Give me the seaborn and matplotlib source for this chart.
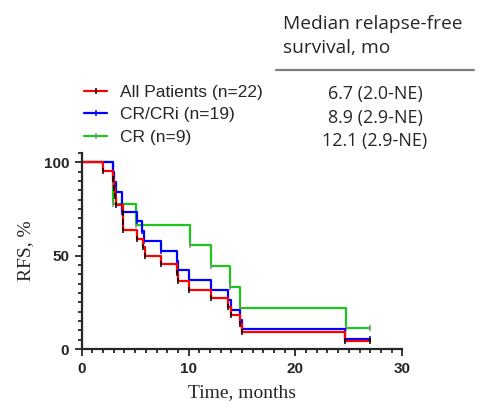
import matplotlib
matplotlib.use("Agg")
import matplotlib.pyplot as plt
import seaborn as sns
import pandas as pd
from matplotlib.lines import Line2D
from matplotlib.ticker import MultipleLocator

# relapse-free survival data (months, 1 = relapse/death, 0 = censored)
all_times = [2.0, 2.9, 3.0, 3.1, 3.2, 3.9, 3.9, 3.9, 5.2, 5.7, 5.9, 7.4, 8.9, 9.0,
             10.0, 12.1, 13.7, 14.0, 14.8, 15.0, 24.6, 27.0]
all_events = [1] * 21 + [0]
crcri_times = [2.9, 3.0, 3.2, 3.8, 3.8, 5.2, 5.6, 5.8, 7.4, 8.9, 9.0, 10.0, 12.1,
               13.7, 14.0, 14.8, 15.0, 24.6, 27.0]
crcri_events = [1] * 18 + [0]
cr_times = [2.9, 2.9, 5.1, 10.1, 12.1, 13.9, 14.8, 24.7, 27.0]
cr_events = [1] * 8 + [0]

labels = ["All Patients (n=22)", "CR/CRi (n=19)", "CR (n=9)"]
medians = ["6.7 (2.0-NE)", "8.9 (2.9-NE)", "12.1 (2.9-NE)"]
header = "Median relapse-free\nsurvival, mo"


def km_steps(times, events):
    # Kaplan-Meier estimate, one point per patient
    s = 100.0
    at_risk = len(times)
    xs, ys = [0.0], [100.0]
    for t, e in sorted(zip(times, events)):
        if e:
            s *= (at_risk - 1) / at_risk
        at_risk -= 1
        xs.append(t)
        ys.append(s)
    return pd.DataFrame({"time": xs, "rfs": ys})


sns.set_style("ticks")
plt.rcParams["font.family"] = ["Liberation Sans", "DejaVu Sans"]

fig = plt.figure(figsize=(4.97, 4.16), dpi=100)
ax = fig.add_axes([0.1644, 0.161, 0.645, 0.471])

curves = [
    (cr_times, cr_events, labels[2], "#1dc41d", "#8a8a8a"),
    (crcri_times, crcri_events, labels[1], "#0000ff", "#0000ff"),
    (all_times, all_events, labels[0], "#ff0000", "black"),
]
for times, events, lab, col, mcol in curves:
    d = km_steps(times, events)
    sns.lineplot(data=d, x="time", y="rfs", ax=ax, sort=False, estimator=None,
                 drawstyle="steps-post", color=col, lw=1.6, label=lab,
                 marker="|", markersize=4, mew=1.1, mec=mcol, legend=False)

ax.set_xlim(0, 30)
ax.set_ylim(0, 105)
ax.set_xticks([0, 10, 20, 30])
ax.set_yticks([0, 50, 100])
ax.xaxis.set_minor_locator(MultipleLocator(1))
ax.yaxis.set_minor_locator(MultipleLocator(5))
ax.tick_params(which="major", length=5, width=1.3, pad=4, labelsize=11)
ax.tick_params(which="minor", length=3, width=1.3)
for t in ax.get_xticklabels() + ax.get_yticklabels():
    t.set_fontweight("bold")
sns.despine(ax=ax)
for sp in ["left", "bottom"]:
    ax.spines[sp].set_linewidth(1.6)

ax.set_xlabel("Time, months", family=["Liberation Serif"], fontsize=14, labelpad=6)
ax.set_ylabel("RFS, %", family=["Liberation Serif"], fontsize=14, labelpad=7)

handles, labs = ax.get_legend_handles_labels()
fig.legend(handles[::-1], labs[::-1], loc="upper left", bbox_to_anchor=(0.169, 0.797),
           frameon=False, fontsize=12.5, handlelength=1.34, handletextpad=0.73,
           labelspacing=0.44, borderpad=0, borderaxespad=0)

# median table on the right
fig.text(282.7 / 497, 1 - 29.3 / 416, header.split("\n")[0], family="Open Sans",
         fontsize=13.8, va="baseline", ha="left")
fig.text(282.7 / 497, 1 - 53.3 / 416, header.split("\n")[1], family="Open Sans",
         fontsize=13.8, va="baseline", ha="left")
fig.add_artist(Line2D([276 / 497, 474 / 497], [1 - 70 / 416, 1 - 70 / 416],
                      color="#7f7f7f", lw=1.6))
for i, m in enumerate(medians):
    fig.text(375 / 497, 1 - (99.3 + 23.4 * i) / 416, m, family="Open Sans",
             fontsize=12.9, va="baseline", ha="center")

fig.savefig("out.png", dpi=100)
